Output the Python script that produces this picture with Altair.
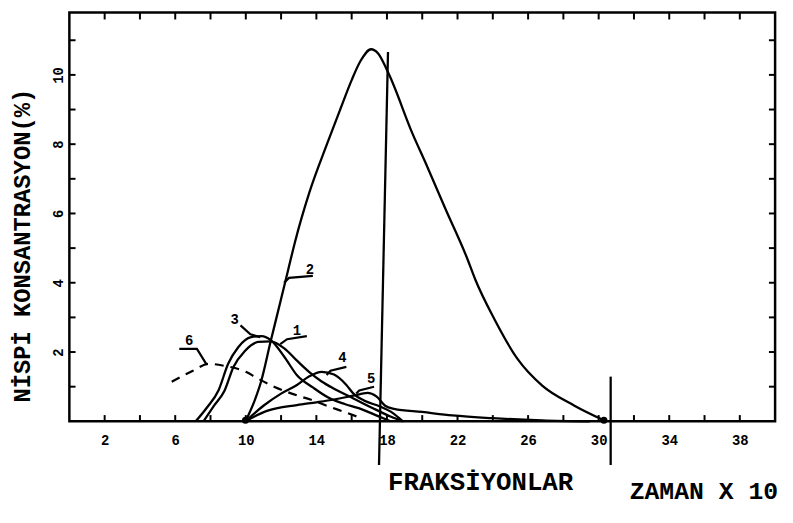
import altair as alt
import pandas as pd

# ---- data ----
c1_x = [7.6, 8.2, 8.8, 9.3, 9.95, 10.7, 11.4, 12.2, 12.9, 13.6, 14.3, 15.0, 16.1, 17.4, 18.2, 18.9]
c1_y = [0.0, 0.45, 0.89, 1.57, 2.03, 2.29, 2.31, 2.1, 1.75, 1.42, 1.15, 0.94, 0.66, 0.33, 0.14, 0.0]

c2_x = [9.98, 10.5, 10.85, 11.4, 11.95, 12.4, 12.8, 13.6, 14.6, 15.35, 16.0, 16.5, 17.1, 17.5, 18.1, 19.46, 20.2, 21.3, 22.55, 23.0, 24.1, 25.4, 26.8, 28.6, 30.3]
c2_y = [0.0, 0.6, 1.12, 2.29, 3.43, 4.37, 5.2, 6.6, 8.0, 9.0, 9.85, 10.4, 10.74, 10.62, 10.03, 8.29, 7.45, 6.15, 4.7, 4.1, 2.94, 1.8, 1.03, 0.46, 0.03]

c3_x = [7.16, 7.8, 8.45, 9.0, 9.57, 10.3, 10.9, 11.4, 12.2, 12.9, 13.8, 14.7, 15.6, 16.4, 17.5, 18.2]
c3_y = [0.0, 0.4, 0.89, 1.66, 2.14, 2.43, 2.46, 2.35, 1.85, 1.33, 0.98, 0.68, 0.5, 0.38, 0.15, 0.0]

c4_x = [9.98, 11.0, 12.0, 12.9, 13.6, 14.3, 15.0, 15.7, 16.1, 16.7, 17.6, 18.3, 18.9]
c4_y = [0.0, 0.45, 0.8, 1.05, 1.3, 1.43, 1.35, 1.05, 0.8, 0.6, 0.43, 0.25, 0.0]

c5_x = [9.98, 11.2, 12.9, 14.0, 15.0, 16.1, 16.9, 17.4, 17.9, 18.4, 20.0, 21.7, 24.0, 26.8, 29.5]
c5_y = [0.0, 0.3, 0.47, 0.55, 0.63, 0.74, 0.82, 0.72, 0.45, 0.36, 0.27, 0.17, 0.09, 0.03, 0.0]

c6_x = [5.8, 7.0, 7.9, 8.8, 10.0, 10.7, 11.6, 12.6, 13.7, 14.7, 15.7, 16.6]
c6_y = [1.14, 1.46, 1.66, 1.6, 1.43, 1.23, 1.0, 0.8, 0.62, 0.43, 0.25, 0.08]

# curve labels and their leader lines
lab_text = ["1", "2", "3", "4", "5", "6"]
lab_x = [12.9, 13.63, 9.37, 15.48, 17.1, 6.79]
lab_y = [2.62, 4.37, 2.91, 1.83, 1.23, 2.31]

lead = {
    "1": ([11.95, 12.34, 13.46], [2.23, 2.37, 2.46]),
    "2": ([12.17, 12.45, 13.8], [4.0, 4.14, 4.2]),
    "3": ([9.7, 10.26, 10.82], [2.77, 2.51, 2.43]),
    "4": ([14.58, 14.8, 15.7], [1.34, 1.46, 1.57]),
    "5": ([16.26, 16.43, 17.27], [0.8, 0.89, 1.0]),
    "6": ([6.23, 7.23, 7.79], [2.09, 2.09, 1.63]),
}

# vertical marker lines (slanted as in the scan)
vl_x = [18.06, 30.68]
vl_x2 = [17.55, 30.68]
vl_y = [10.66, 1.29]
vl_y2 = [-1.26, -1.26]

dot_x = [9.98, 30.3]
dot_y = [0.03, 0.03]

x_label_vals = [2, 6, 10, 14, 18, 22, 26, 30, 34, 38]
x_tick_vals = list(range(2, 40, 2))
y_label_vals = [2, 4, 6, 8, 10]
y_tick_vals = list(range(1, 12))

XMAX = 40
YMAX = 11.8
FONT = "'Liberation Mono', 'Cousine', 'DejaVu Sans Mono', monospace"

# ---- tables ----
rows = []
for name, xs_, ys_ in [("1", c1_x, c1_y), ("2", c2_x, c2_y), ("3", c3_x, c3_y),
                       ("4", c4_x, c4_y), ("5", c5_x, c5_y)]:
    for i, (a, b) in enumerate(zip(xs_, ys_)):
        rows.append({"curve": name, "x": a, "y": b, "o": i})
curves = pd.DataFrame(rows)
dashed = pd.DataFrame({"x": c6_x, "y": c6_y, "o": range(len(c6_x))})

lrows = []
for name, (lx, ly) in lead.items():
    for i, (a, b) in enumerate(zip(lx, ly)):
        lrows.append({"lab": name, "x": a, "y": b, "o": i})
leaders = pd.DataFrame(lrows)
labels = pd.DataFrame({"t": lab_text, "x": lab_x, "y": lab_y})
vlines = pd.DataFrame({"x": vl_x, "x2": vl_x2, "y": vl_y, "y2": vl_y2})
dots = pd.DataFrame({"x": dot_x, "y": dot_y})

xs = alt.Scale(domain=[0, XMAX], nice=False, zero=False)
ys = alt.Scale(domain=[0, YMAX], nice=False, zero=False)

X = alt.X("x:Q", scale=xs, axis=alt.Axis(
    values=x_label_vals, title="FRAKSİYONLAR", grid=False, ticks=False, tickSize=0,
    domain=False, labelFont=FONT, labelFontWeight="bold", labelFontSize=14,
    labelColor="black", labelPadding=12, labelFlush=False,
    titleFont=FONT, titleFontWeight="bold", titleFontSize=26, titleColor="black",
    titleX=415, titleY=61, titleBaseline="middle", titleAlign="center"))
Y = alt.Y("y:Q", scale=ys, axis=alt.Axis(
    values=y_label_vals, title="NİSPİ KONSANTRASYON(%)", grid=False, ticks=False, tickSize=0,
    domain=False, labelFont=FONT, labelFontWeight="bold", labelFontSize=14,
    labelColor="black", labelAngle=270, labelAlign="center", labelBaseline="alphabetic",
    labelPadding=7, labelFlush=False,
    titleFont=FONT, titleFontWeight="bold", titleFontSize=24, titleColor="black",
    titleAngle=270, titleX=-47, titleY=235, titleBaseline="middle", titleAlign="center"))

base_curves = alt.Chart(curves).mark_line(
    color="black", strokeWidth=2.3, interpolate="monotone"
).encode(x=X, y=Y, detail="curve:N", order="o:Q")

dash_layer = alt.Chart(dashed).mark_line(
    color="black", strokeWidth=2.2, strokeDash=[9, 7], interpolate="monotone"
).encode(x=alt.X("x:Q", scale=xs), y=alt.Y("y:Q", scale=ys), order="o:Q")

lead_layer = alt.Chart(leaders).mark_line(color="black", strokeWidth=2.2).encode(
    x=alt.X("x:Q", scale=xs), y=alt.Y("y:Q", scale=ys), detail="lab:N", order="o:Q")

lab_layer = alt.Chart(labels).mark_text(
    font=FONT, fontWeight="bold", fontSize=14, color="black", baseline="middle", align="center"
).encode(x=alt.X("x:Q", scale=xs), y=alt.Y("y:Q", scale=ys), text="t:N")

vl_layer = alt.Chart(vlines).mark_rule(color="black", strokeWidth=2.3).encode(
    x=alt.X("x:Q", scale=xs), x2="x2:Q", y=alt.Y("y:Q", scale=ys), y2="y2:Q")

dot_layer = alt.Chart(dots).mark_circle(color="black", size=50, opacity=1).encode(
    x=alt.X("x:Q", scale=xs), y=alt.Y("y:Q", scale=ys))

# inward tick marks on all four sides
bt = pd.DataFrame({"x": x_tick_vals})
bt["y"] = 0.0
bt["y2"] = 0.18
tt = pd.DataFrame({"x": x_tick_vals})
tt["y"] = YMAX
tt["y2"] = YMAX - 0.2
lt = pd.DataFrame({"y": y_tick_vals})
lt["x"] = 0.0
lt["x2"] = 0.35
rt = pd.DataFrame({"y": y_tick_vals})
rt["x"] = XMAX
rt["x2"] = XMAX - 0.35

tick_layers = [
    alt.Chart(bt).mark_rule(color="black", strokeWidth=2).encode(
        x=alt.X("x:Q", scale=xs), y=alt.Y("y:Q", scale=ys), y2="y2:Q"),
    alt.Chart(tt).mark_rule(color="black", strokeWidth=2).encode(
        x=alt.X("x:Q", scale=xs), y=alt.Y("y:Q", scale=ys), y2="y2:Q"),
    alt.Chart(lt).mark_rule(color="black", strokeWidth=2).encode(
        x=alt.X("x:Q", scale=xs), x2="x2:Q", y=alt.Y("y:Q", scale=ys)),
    alt.Chart(rt).mark_rule(color="black", strokeWidth=2).encode(
        x=alt.X("x:Q", scale=xs), x2="x2:Q", y=alt.Y("y:Q", scale=ys)),
]

zaman = alt.Chart(pd.DataFrame({"t": ["ZAMAN X 10"]})).mark_text(
    font=FONT, fontWeight="bold", fontSize=25, color="black", align="right", baseline="middle"
).encode(x=alt.value(716), y=alt.value(483), text="t:N")

chart = alt.layer(
    base_curves, dash_layer, lead_layer, lab_layer, vl_layer, dot_layer, *tick_layers, zaman
).properties(
    width=713, height=413,
    autosize=alt.AutoSizeParams(type="none"),
    padding={"left": 62, "top": 2, "right": 10, "bottom": 86},
    background="white",
).configure_view(stroke="black", strokeWidth=2.5)

chart.save("out.html", embed_options={"renderer": "svg", "actions": False})
